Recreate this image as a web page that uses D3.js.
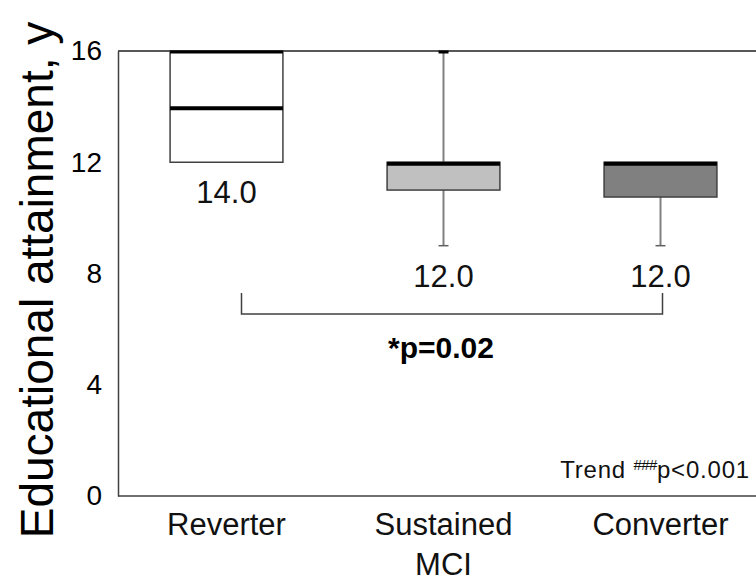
<!DOCTYPE html>
<html><head><meta charset="utf-8">
<script src="https://cdn.jsdelivr.net/npm/d3@7"></script>
<style>body{margin:0;background:#fff}svg{display:block}text{font-family:"Liberation Sans",Arial,sans-serif}</style>
</head><body>
<svg id="c" width="756" height="582"></svg>
<script>
const categories = ["Reverter", "Sustained MCI", "Converter"];
const labelLines = [["Reverter"], ["Sustained", "MCI"], ["Converter"]];
const mins = [12, 9, 9];
const q1s = [12, 11, 10.75];
const medians = [14, 12, 12];
const q3s = [16, 12, 12];
const maxs = [16, 16, 12];
const medianLabels = ["14.0", "12.0", "12.0"];
const fills = ["#ffffff", "#c0c0c0", "#808080"];
const yTicks = [0, 4, 8, 12, 16];

const svg = d3.select("#c");
const x = d3.scaleBand().domain(categories).range([118, 769]).paddingInner(0.48).paddingOuter(0.24);
const y = d3.scaleLinear().domain([0, 16]).range([496, 51]);
const bw = x.bandwidth();
const cx = c => x(c) + bw / 2;

// axes
const ya = svg.append("g").attr("transform", "translate(118,0)")
  .call(d3.axisLeft(y).tickValues(yTicks).tickSize(0).tickPadding(16));
ya.select(".domain").attr("stroke", "#404040").attr("stroke-width", 1.5);
ya.selectAll("text").attr("font-size", 28).attr("fill", "#000").attr("font-family", "Liberation Sans, Arial, sans-serif");

svg.append("line").attr("x1", 118).attr("x2", 756).attr("y1", y(0)).attr("y2", y(0)).attr("stroke", "#404040").attr("stroke-width", 1.5);
svg.append("line").attr("x1", 118).attr("x2", 756).attr("y1", y(16)).attr("y2", y(16)).attr("stroke", "#202020").attr("stroke-width", 1.5);

// boxes
categories.forEach((c, i) => {
  const g = svg.append("g");
  if (maxs[i] > q3s[i]) {
    g.append("line").attr("x1", cx(c)).attr("x2", cx(c)).attr("y1", y(maxs[i])).attr("y2", y(q3s[i])).attr("stroke", "#808080").attr("stroke-width", 2);
    g.append("line").attr("x1", cx(c) - 5).attr("x2", cx(c) + 5).attr("y1", y(maxs[i]) + 1).attr("y2", y(maxs[i]) + 1).attr("stroke", "#000").attr("stroke-width", 3);
  }
  if (mins[i] < q1s[i]) {
    g.append("line").attr("x1", cx(c)).attr("x2", cx(c)).attr("y1", y(q1s[i])).attr("y2", y(mins[i])).attr("stroke", "#808080").attr("stroke-width", 2);
    g.append("line").attr("x1", cx(c) - 5).attr("x2", cx(c) + 5).attr("y1", y(mins[i])).attr("y2", y(mins[i])).attr("stroke", "#606060").attr("stroke-width", 1.5);
  }
  g.append("rect").attr("x", x(c)).attr("y", y(q3s[i])).attr("width", bw).attr("height", y(q1s[i]) - y(q3s[i]))
    .attr("fill", fills[i]).attr("stroke", "#404040").attr("stroke-width", 1.5);
  if (maxs[i] === q3s[i] && q3s[i] !== medians[i]) {
    g.append("line").attr("x1", x(c)).attr("x2", x(c) + bw).attr("y1", y(q3s[i]) + 1).attr("y2", y(q3s[i]) + 1).attr("stroke", "#000").attr("stroke-width", 3);
  }
  g.append("line").attr("x1", x(c)).attr("x2", x(c) + bw).attr("y1", y(medians[i]) + 1.5).attr("y2", y(medians[i]) + 1.5).attr("stroke", "#000").attr("stroke-width", 4);
  g.append("text").attr("x", cx(c)).attr("y", y(Math.min(q1s[i], mins[i])) + 41).attr("text-anchor", "middle")
    .attr("font-size", 31).attr("fill", "#111").text(medianLabels[i]);
  labelLines[i].forEach((t, j) => {
    svg.append("text").attr("x", cx(c)).attr("y", 535 + j * 40).attr("text-anchor", "middle").attr("font-size", 31).attr("fill", "#111").text(t);
  });
});

// significance bracket
const bL = cx(categories[0]) + 15, bR = cx(categories[2]) + 2;
svg.append("path").attr("d", `M${bL},293V314H${bR}V293`).attr("fill", "none").attr("stroke", "#404040").attr("stroke-width", 1.5);
svg.append("text").attr("x", 441).attr("y", 358).attr("text-anchor", "middle").attr("font-size", 30).attr("font-weight", "bold").text("*p=0.02");

// trend text
const tt = svg.append("text").attr("x", 750).attr("y", 478).attr("text-anchor", "end").attr("font-size", 24).attr("letter-spacing", 0.8).attr("fill", "#111");
tt.append("tspan").text("Trend ");
tt.append("tspan").attr("font-size", 15).attr("letter-spacing", -0.5).attr("dy", -8).text("###");
tt.append("tspan").attr("dy", 8).text("p<0.001");

// y title
svg.append("text").attr("transform", "translate(53,280) rotate(-90)").attr("text-anchor", "middle").attr("font-size", 46).attr("fill", "#000").text("Educational attainment, y");
</script>
</body></html>
